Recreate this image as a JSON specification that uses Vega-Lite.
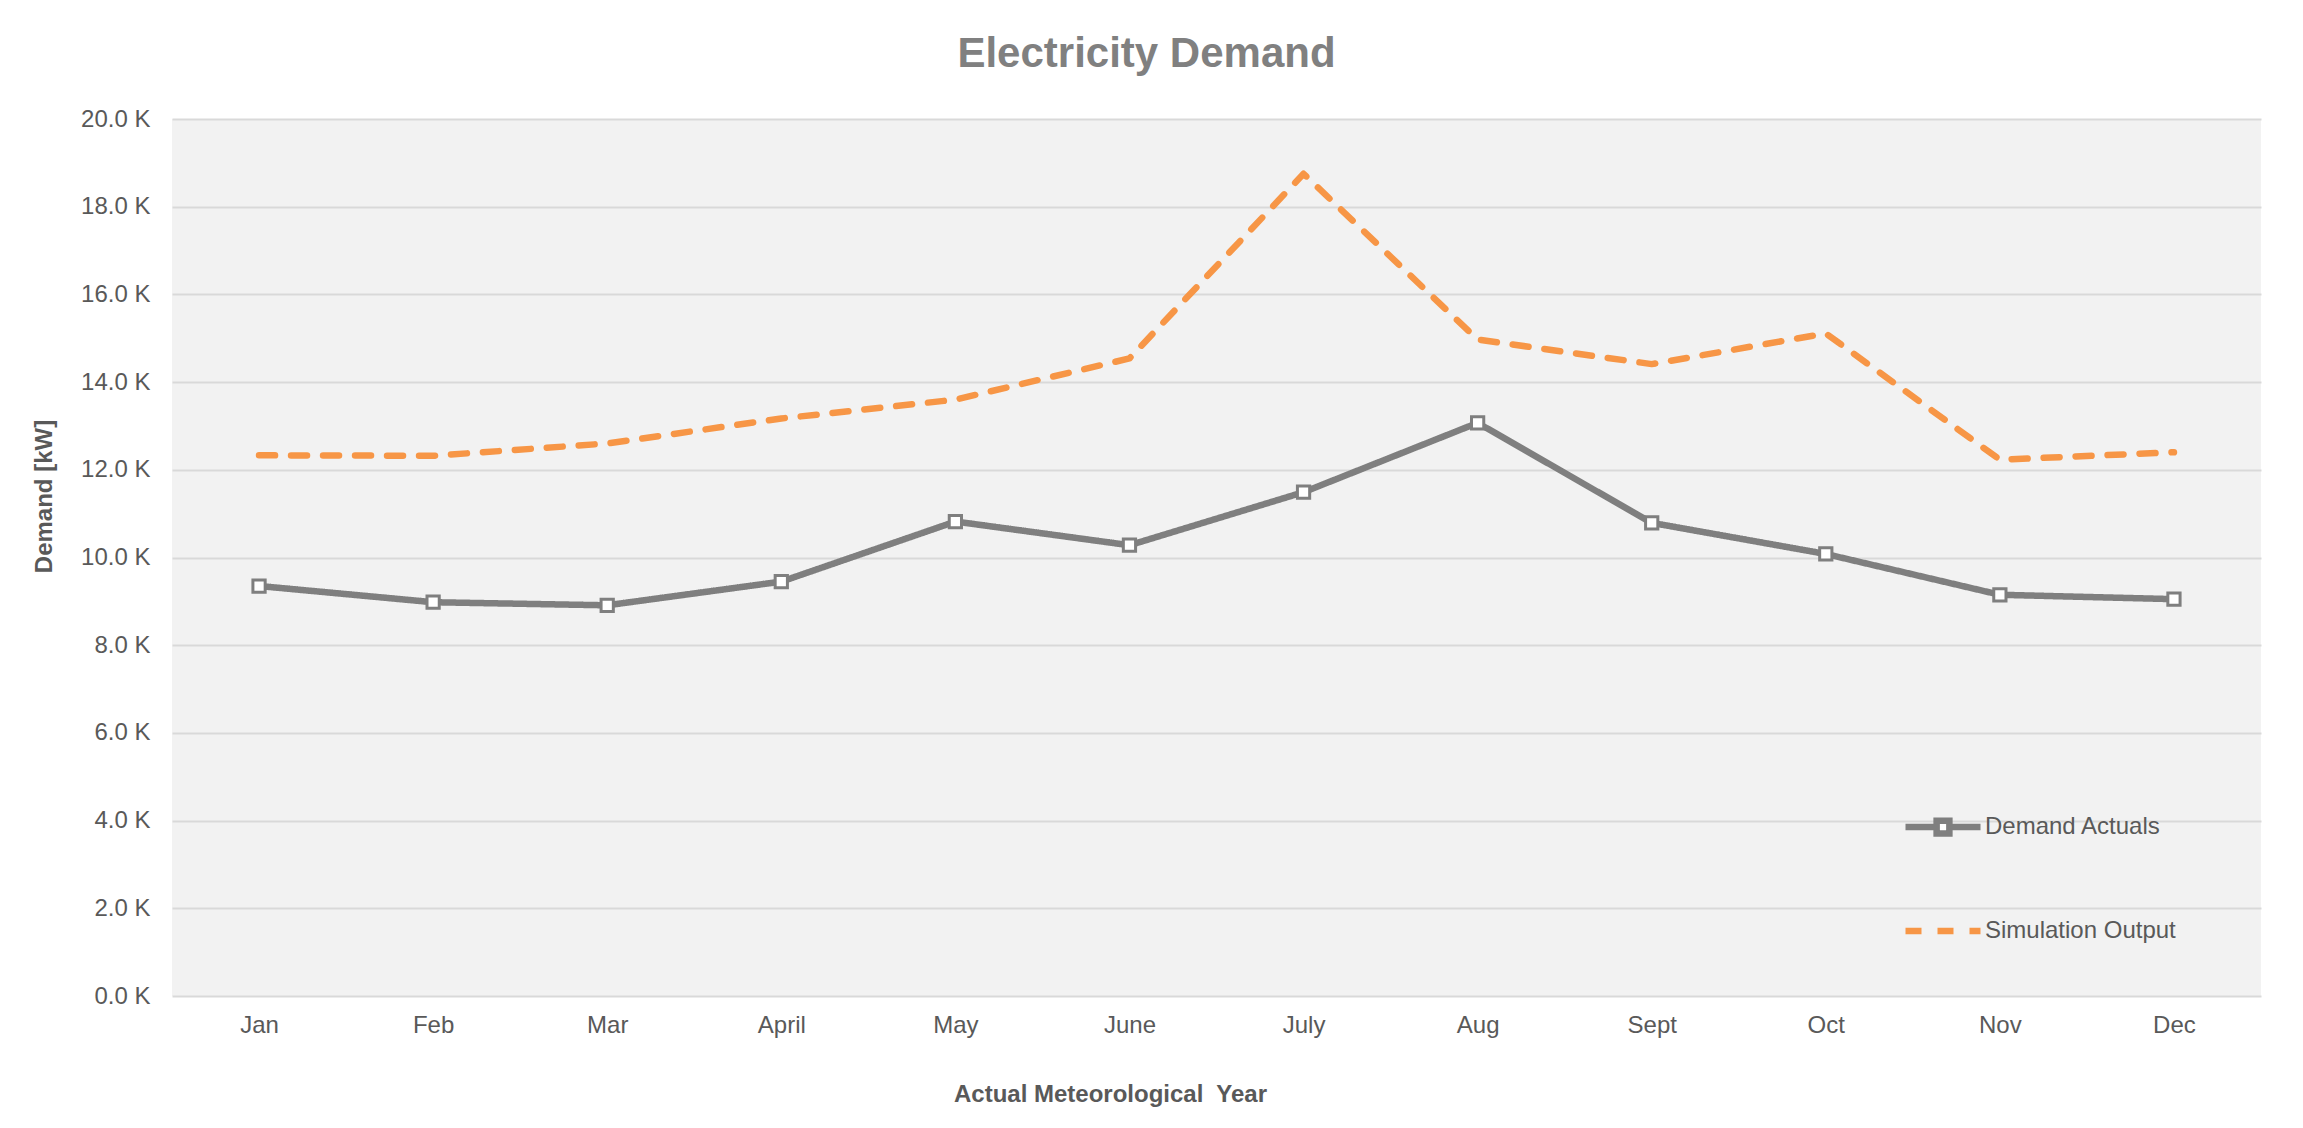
{
  "$schema": "https://vega.github.io/schema/vega-lite/v6.json",
  "width": 2089,
  "height": 877,
  "autosize": {"type": "none"},
  "padding": {"left": 172, "top": 119, "right": 42, "bottom": 132},
  "background": "white",
  "title": {
    "text": "Electricity Demand",
    "fontSize": 42,
    "fontWeight": "bold",
    "color": "#808080",
    "font": "Liberation Sans",
    "anchor": "middle",
    "frame": "bounds",
    "offset": 31
  },
  "data": {
    "values": [
      {"month": "Jan", "series": "Demand Actuals", "value": 9350},
      {"month": "Feb", "series": "Demand Actuals", "value": 8980},
      {"month": "Mar", "series": "Demand Actuals", "value": 8910},
      {"month": "April", "series": "Demand Actuals", "value": 9450},
      {"month": "May", "series": "Demand Actuals", "value": 10820},
      {"month": "June", "series": "Demand Actuals", "value": 10280},
      {"month": "July", "series": "Demand Actuals", "value": 11490},
      {"month": "Aug", "series": "Demand Actuals", "value": 13070},
      {"month": "Sept", "series": "Demand Actuals", "value": 10790},
      {"month": "Oct", "series": "Demand Actuals", "value": 10080},
      {"month": "Nov", "series": "Demand Actuals", "value": 9150},
      {"month": "Dec", "series": "Demand Actuals", "value": 9050},
      {"month": "Jan", "series": "Simulation Output", "value": 12330},
      {"month": "Feb", "series": "Simulation Output", "value": 12320},
      {"month": "Mar", "series": "Simulation Output", "value": 12600},
      {"month": "April", "series": "Simulation Output", "value": 13170},
      {"month": "May", "series": "Simulation Output", "value": 13600},
      {"month": "June", "series": "Simulation Output", "value": 14540},
      {"month": "July", "series": "Simulation Output", "value": 18750},
      {"month": "Aug", "series": "Simulation Output", "value": 14970},
      {"month": "Sept", "series": "Simulation Output", "value": 14410},
      {"month": "Oct", "series": "Simulation Output", "value": 15110},
      {"month": "Nov", "series": "Simulation Output", "value": 12230},
      {"month": "Dec", "series": "Simulation Output", "value": 12400}
    ]
  },
  "encoding": {
    "x": {
      "field": "month",
      "type": "ordinal",
      "sort": null,
      "scale": {"type": "point", "padding": 0.5},
      "axis": {
        "title": "Actual Meteorological\u00a0 Year",
        "titleFontSize": 24,
        "titleFontWeight": "bold",
        "titleColor": "#595959",
        "titleX": 938,
        "titleY": 98,
        "titleBaseline": "middle",
        "titleAlign": "center",
        "labelAngle": 0,
        "labelFontSize": 24,
        "labelColor": "#595959",
        "labelPadding": 17,
        "ticks": false,
        "tickSize": 0,
        "domain": false,
        "grid": false
      }
    },
    "y": {
      "field": "value",
      "type": "quantitative",
      "scale": {"domain": [0, 20000], "nice": false, "zero": true},
      "axis": {
        "title": "Demand [kW]",
        "titleFontSize": 24,
        "titleFontWeight": "bold",
        "titleColor": "#595959",
        "titleX": -128,
        "titleY": 377,
        "titleAngle": -90,
        "titleBaseline": "middle",
        "titleAlign": "center",
        "values": [0, 2000, 4000, 6000, 8000, 10000, 12000, 14000, 16000, 18000, 20000],
        "labelExpr": "format(datum.value / 1000, '.1f') + ' K'",
        "labelFontSize": 24,
        "labelColor": "#595959",
        "labelPadding": 22,
        "ticks": false,
        "tickSize": 0,
        "domain": false,
        "grid": true,
        "gridColor": "#d9d9d9",
        "gridWidth": 2
      }
    }
  },
  "layer": [
    {
      "mark": {"type": "line", "strokeWidth": 6.5, "strokeCap": "round", "strokeJoin": "round"},
      "encoding": {
        "color": {
          "field": "series",
          "type": "nominal",
          "scale": {"domain": ["Demand Actuals", "Simulation Output"], "range": ["#7f7f7f", "#F79646"]},
          "legend": {
            "orient": "none",
            "legendX": 1730,
            "legendY": 667,
            "title": null,
            "symbolType": "stroke",
            "symbolSize": 5625,
            "symbolStrokeWidth": 6.5,
            "labelFontSize": 24,
            "labelColor": "#595959",
            "labelOffset": 1,
            "labelLimit": 0,
            "rowPadding": 43,
            "encode": {
              "symbols": {
                "update": {
                  "shape": {"signal": "datum.value === 'Demand Actuals' ? 'M-1,0H-0.24M0.24,0H1M-0.17,-0.17H0.17V0.17H-0.17Z' : 'stroke'"},
                  "fill": {"signal": "datum.value === 'Demand Actuals' ? 'white' : 'transparent'"}
                }
              }
            }
          }
        },
        "strokeDash": {
          "field": "series",
          "type": "nominal",
          "scale": {"domain": ["Demand Actuals", "Simulation Output"], "range": [[1, 0], [16, 16]]},
          "legend": null
        }
      }
    },
    {
      "transform": [{"filter": "datum.series === 'Demand Actuals'"}],
      "mark": {"type": "point", "shape": "square", "size": 150, "filled": true, "fill": "white", "stroke": "#7f7f7f", "strokeWidth": 3, "opacity": 1}
    }
  ],
  "config": {
    "font": "Liberation Sans",
    "view": {"fill": "#f2f2f2", "stroke": null}
  }
}
